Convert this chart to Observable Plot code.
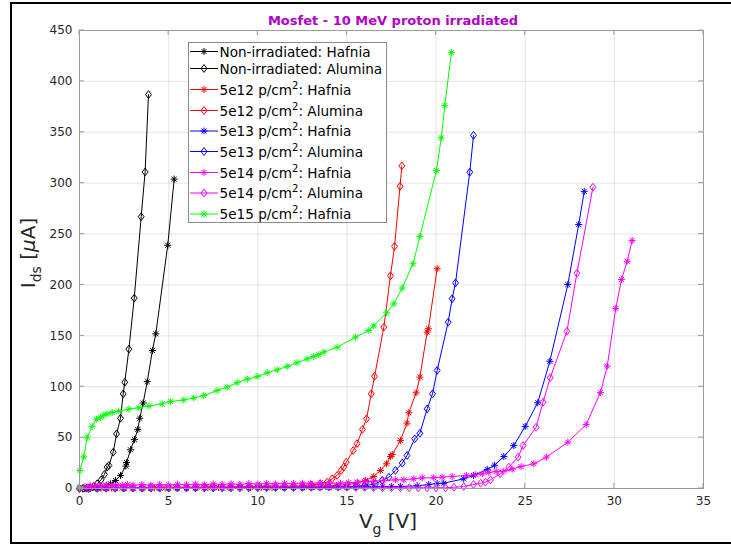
<!DOCTYPE html>
<html><head><meta charset="utf-8">
<script src="https://cdn.jsdelivr.net/npm/d3@7"></script>
<script src="https://cdn.jsdelivr.net/npm/@observablehq/plot@0.6"></script>
<style>
body{margin:0;background:#fff;}
#chart{width:731px;height:546px;overflow:hidden;}
</style>
</head><body><div id="chart"></div>
<script>
// ---- tick labels / text ----
const xTicks = [0, 5, 10, 15, 20, 25, 30, 35];
const yTicks = [0, 50, 100, 150, 200, 250, 300, 350, 400, 450];
const titleText = "Mosfet - 10 MeV proton irradiated";
const seriesNames = [
  ["Non-irradiated: Hafnia", false],
  ["Non-irradiated: Alumina", false],
  ["5e12 p/cm", "Hafnia"],
  ["5e12 p/cm", "Alumina"],
  ["5e13 p/cm", "Hafnia"],
  ["5e13 p/cm", "Alumina"],
  ["5e14 p/cm", "Hafnia"],
  ["5e14 p/cm", "Alumina"],
  ["5e15 p/cm", "Hafnia"]
];
const seriesColors = ["#000000","#000000","#ff0000","#ff0000","#0000ff","#0000ff","#ff00ff","#ff00ff","#00ff00"];
const seriesMarkers = ["star","diamond","star","diamond","star","diamond","star","diamond","star"];

// ---- data: [Vg (V), Ids (uA)] ----
const nonIrrHafnia = [[0,0],[0.3,0.1],[0.6,0.3],[0.9,0.6],[1.2,1.2],[1.5,2.5],[1.74,4.6],[2.02,7.9],[2.3,12.8],[2.6,22],[2.64,25.5],[2.86,38],[3.08,48],[3.27,58],[3.38,69],[3.57,84],[3.8,105],[4.09,135.6],[4.28,152],[4.95,239],[5.31,304]];
const nonIrrAlumina = [[0,0],[0.2,0.1],[0.4,0.3],[0.6,0.8],[0.8,2],[0.99,4.6],[1.21,8.5],[1.4,13.8],[1.55,21],[1.65,22.6],[1.89,35.7],[2.08,53.7],[2.3,69],[2.45,93],[2.54,104.4],[2.77,136.9],[3.07,187],[3.46,267],[3.68,311],[3.87,387]];
const p5e12Hafnia = [[0,0],[0.6,0.3],[1.2,0.4],[1.8,0.5],[2.4,0.4],[3.0,0.6],[3.6,0.5],[4.2,0.7],[4.8,0.6],[5.4,0.8],[6.0,0.7],[6.6,0.9],[7.2,0.8],[7.8,1.0],[8.4,0.9],[9.0,1.1],[9.6,1.0],[10.2,1.2],[10.8,1.1],[11.4,1.3],[12.0,1.4],[12.6,1.5],[13.2,1.8],[13.8,2.2],[14.4,2.8],[15.0,3.8],[15.6,5.5],[16.04,7.9],[16.5,11.8],[16.88,17.7],[17.22,24.3],[17.44,31.4],[17.54,33.4],[18.0,47.2],[18.37,64.2],[18.47,74.4],[18.88,94],[19.09,109.4],[19.5,153.6],[19.57,157],[20.06,216]];
const p5e12Alumina = [[0,0],[0.5,0.2],[1.0,0.4],[1.5,0.5],[2.0,0.6],[2.5,0.7],[3.0,0.8],[3.5,0.9],[4.0,1.0],[4.5,1.0],[5.0,1.1],[5.5,1.2],[6.0,1.3],[6.5,1.3],[7.0,1.4],[7.5,1.5],[8.0,1.5],[8.5,1.6],[9.0,1.7],[9.5,1.8],[10.0,1.9],[10.5,2.0],[11.0,2.1],[11.5,2.3],[12.0,2.5],[12.5,2.9],[13.0,3.4],[13.5,4.6],[13.89,6.2],[14.17,9.5],[14.45,12.8],[14.67,17.7],[14.82,21],[14.96,25.8],[15.35,37.3],[15.57,44],[15.87,58],[16.1,68.5],[16.36,93],[16.55,110.3],[17.07,158.5],[17.44,209],[17.67,237.8],[17.98,297],[18.08,317]];
const p5e13Hafnia = [[0,0],[0.5,0.1],[1.0,0.2],[1.5,0.2],[2.0,0.3],[2.5,0.3],[3.0,0.3],[3.5,0.4],[4.0,0.4],[4.5,0.4],[5.0,0.5],[5.5,0.5],[6.0,0.5],[6.5,0.6],[7.0,0.6],[7.5,0.6],[8.0,0.7],[8.5,0.7],[9.0,0.7],[9.5,0.8],[10.0,0.8],[10.5,0.8],[11.0,0.9],[11.5,0.9],[12.0,1.0],[12.5,1.0],[13.0,1.1],[13.5,1.1],[14.0,1.2],[14.5,1.3],[15.0,1.4],[15.5,1.5],[16.0,1.6],[16.5,1.7],[17.0,1.8],[17.5,1.9],[18.0,2.0],[18.94,2.6],[19.59,3.9],[20.06,4.8],[20.43,5.2],[21.55,9.5],[22.1,12.8],[22.87,18.7],[23.28,22.9],[23.8,31.4],[24.36,42.2],[25.0,61],[25.7,84.2],[26.38,125],[27.39,200.4],[28.0,259.4],[28.31,292]];
const p5e13Alumina = [[0,0],[0.5,0.1],[1.0,0.1],[1.5,0.2],[2.0,0.2],[2.5,0.3],[3.0,0.3],[3.5,0.3],[4.0,0.4],[4.5,0.4],[5.0,0.4],[5.5,0.5],[6.0,0.5],[6.5,0.5],[7.0,0.6],[7.5,0.6],[8.0,0.6],[8.5,0.7],[9.0,0.7],[9.5,0.8],[10.0,0.8],[10.5,0.9],[11.0,0.9],[11.5,1.0],[12.0,1.0],[12.5,1.1],[13.0,1.2],[13.5,1.3],[14.0,1.4],[14.5,1.6],[15.0,1.8],[15.5,2.2],[16.0,2.9],[16.3,3.6],[16.6,4.6],[16.98,7.9],[17.35,11.1],[17.72,17.7],[18.1,24.9],[18.37,32.4],[18.8,48.8],[19.09,54.3],[19.5,78.3],[19.8,93],[20.06,116],[20.68,163.4],[20.9,186.4],[21.09,202],[21.89,310.8],[22.1,347]];
const p5e14Hafnia = [[0,0],[0.3,1.5],[0.6,2.5],[0.9,3.0],[1.2,2.6],[1.5,3.4],[1.8,2.8],[2.1,3.6],[2.4,3.0],[2.7,3.8],[3.0,3.2],[3.5,3.9],[4.0,3.3],[4.5,4.0],[5.0,3.4],[5.5,4.2],[6.0,3.6],[6.5,4.3],[7.0,3.7],[7.5,4.5],[8.0,4.0],[8.5,4.6],[9.0,4.1],[9.5,4.8],[10.0,4.3],[10.5,5.0],[11.0,4.5],[11.5,5.1],[12.0,4.8],[12.5,5.3],[12.96,5.2],[13.5,5.6],[14.0,5.2],[14.64,5.2],[15.1,5.8],[15.57,6.2],[16.0,6.8],[16.5,7.2],[17.07,7.9],[17.72,8.5],[18.19,8.5],[18.75,9.5],[19.22,10.5],[19.87,10.5],[20.34,11.1],[20.9,11.8],[21.7,12.8],[22.2,13.6],[22.59,14.4],[22.96,15.7],[23.37,16.7],[23.8,17],[24.27,19],[24.77,21.6],[25.48,24.3],[26.19,30.8],[27.39,45.5],[28.42,62.9],[29.22,94.3],[29.6,120.2],[30.08,176.9],[30.4,205.3],[30.72,223.3],[31.0,243.7]];
const p5e14Alumina = [[0,0],[0.5,0.3],[1.0,0.5],[1.5,0.6],[2.0,0.7],[2.5,0.7],[3.0,0.8],[3.5,0.8],[4.0,0.9],[4.5,0.9],[5.0,1.0],[5.5,1.0],[6.0,1.0],[6.5,1.1],[7.0,1.1],[7.5,1.1],[8.0,1.2],[8.5,1.2],[9.0,1.2],[9.5,1.3],[10.0,1.3],[10.5,1.3],[11.0,1.3],[11.5,1.4],[12.0,1.4],[12.5,1.4],[13.0,1.4],[13.5,1.4],[14.0,1.4],[14.5,1.3],[15.0,1.2],[15.5,1.1],[16.0,1.0],[16.5,0.9],[17.0,0.8],[17.5,0.8],[18.0,0.7],[18.5,0.7],[19.0,0.7],[19.5,0.7],[20.0,0.7],[20.53,0.7],[21.0,1.2],[21.55,2],[22.1,3.9],[22.5,5.2],[22.77,6.2],[23.05,8.5],[23.6,14.4],[24.08,21],[24.6,30.8],[24.88,42.2],[25.61,60.2],[26.0,84.8],[26.4,108.8],[27.34,154.5],[27.9,211.5],[28.8,296]];
const p5e15Hafnia = [[0,1],[0.02,17.7],[0.24,31],[0.43,50.4],[0.71,61],[0.95,68],[1.18,70],[1.36,72],[1.55,73.4],[1.83,74.7],[2.2,76],[2.77,78],[3.33,79.3],[3.89,81],[4.64,83.2],[5.1,85.5],[5.85,87],[6.41,89],[6.97,91.4],[7.72,96.3],[8.28,99.5],[8.84,104],[9.41,107.4],[9.97,110],[10.53,113.6],[11.09,116.6],[11.65,119.9],[12.2,123.5],[12.77,127.4],[13.14,129.7],[13.42,131.7],[13.7,134],[14.45,138.8],[15.48,148.7],[16.23,155.2],[16.5,159.8],[17.22,172.6],[17.63,181.4],[18.1,197],[18.71,220.8],[19.09,247.6],[20.02,312.4],[20.29,344.6],[20.49,376.3],[20.86,428.4]];

const seriesData = [nonIrrHafnia, nonIrrAlumina, p5e12Hafnia, p5e12Alumina, p5e13Hafnia, p5e13Alumina, p5e14Hafnia, p5e14Alumina, p5e15Hafnia];

// ---- build plot ----
const FONT = "DejaVu Sans, sans-serif";
const X = d => d[0], Y = d => d[1];
// MATLAB-like diamond: taller than wide
const matlabDiamond = {
  draw(context, size) {
    const h = Math.sqrt(size / Math.PI) * 1.45, w = h * 0.75;
    context.moveTo(0, -h); context.lineTo(w, 0); context.lineTo(0, h); context.lineTo(-w, 0); context.closePath();
  }
};
function markerMarks(data, kind, color) {
  if (kind === "star") return [
    Plot.dot(data, {x: X, y: Y, symbol: "plus", r: 2.4, stroke: color, strokeWidth: 1}),
    Plot.dot(data, {x: X, y: Y, symbol: "times", r: 2.4, stroke: color, strokeWidth: 1})
  ];
  return [Plot.dot(data, {x: X, y: Y, symbol: matlabDiamond, r: 2.7, fill: "none", stroke: color, strokeWidth: 1})];
}
const marks = [
  Plot.gridX(xTicks, {stroke: "#262626", strokeOpacity: 0.12}),
  Plot.gridY(yTicks, {stroke: "#262626", strokeOpacity: 0.12})
];
seriesData.forEach((d, i) => {
  marks.push(Plot.line(d, {x: X, y: Y, stroke: seriesColors[i], strokeWidth: 1}));
  marks.push(...markerMarks(d, seriesMarkers[i], seriesColors[i]));
});
marks.push(
  Plot.frame({stroke: "#9a9a9a"}),
  Plot.axisX(xTicks, {tickSize: 0, tickPadding: 8, fill: "#262626", label: null}),
  Plot.axisY(yTicks, {tickSize: 0, tickPadding: 7, fill: "#262626", label: null})
);

const plot = Plot.plot({
  width: 731, height: 546,
  marginLeft: 79, marginRight: 28, marginTop: 30, marginBottom: 58,
  x: {domain: [0, 35]},
  y: {domain: [0, 450]},
  style: {fontFamily: FONT, fontSize: "12px", background: "#fff", overflow: "visible"},
  marks
});
document.getElementById("chart").appendChild(plot);

// ---- decorations using the plot's scales ----
const sx = plot.scale("x"), sy = plot.scale("y");
const x0 = sx.apply(0), x1 = sx.apply(35), y0 = sy.apply(0), y1 = sy.apply(450);
const svg = d3.select(plot);
const tg = svg.append("g").attr("stroke", "#9a9a9a").attr("stroke-width", 1);
xTicks.forEach(t => {
  const px = sx.apply(t);
  tg.append("line").attr("x1", px).attr("x2", px).attr("y1", y1).attr("y2", y1 + 5);
  tg.append("line").attr("x1", px).attr("x2", px).attr("y1", y0).attr("y2", y0 - 5);
});
yTicks.forEach(t => {
  const py = sy.apply(t);
  tg.append("line").attr("x1", x0).attr("x2", x0 + 5).attr("y1", py).attr("y2", py);
  tg.append("line").attr("x1", x1).attr("x2", x1 - 5).attr("y1", py).attr("y2", py);
});

// title
svg.append("text").attr("x", (x0 + x1) / 2 + 2).attr("y", 25)
  .attr("text-anchor", "middle").attr("font-family", FONT).attr("font-weight", "bold")
  .attr("font-size", 13).attr("fill", "#b000c8").text(titleText);

// x label
const xl = svg.append("text").attr("x", (x0 + x1) / 2 - 3).attr("y", 528)
  .attr("text-anchor", "middle").attr("font-family", FONT).attr("font-size", 20).attr("fill", "#262626");
xl.append("tspan").text("V");
xl.append("tspan").attr("font-size", 14).attr("dy", 6).text("g");
xl.append("tspan").attr("dy", -6).text(" [V]");

// y label
const yl = svg.append("text").attr("transform", `translate(35,${(y0 + y1) / 2 - 6}) rotate(-90)`)
  .attr("text-anchor", "middle").attr("font-family", FONT).attr("font-size", 20).attr("fill", "#262626");
yl.append("tspan").text("I");
yl.append("tspan").attr("font-size", 14).attr("dy", 6).text("ds");
yl.append("tspan").attr("dy", -6).text(" [");
yl.append("tspan").attr("font-style", "italic").text("\u03bc");
yl.append("tspan").text("A]");

// legend
const lg = svg.append("g").attr("text-anchor", "start");
lg.append("rect").attr("x", 188.5).attr("y", 42.5).attr("width", 198).attr("height", 180)
  .attr("fill", "#fff").attr("stroke", "#8a8a8a").attr("stroke-width", 1);
const rowY = [51.5, 68.5, 89.5, 110.5, 131, 151.5, 172.5, 193, 214];
seriesNames.forEach((nm, i) => {
  const yy = rowY[i], c = seriesColors[i];
  lg.append("line").attr("x1", 190).attr("x2", 218).attr("y1", yy).attr("y2", yy).attr("stroke", c).attr("stroke-width", 1);
  if (seriesMarkers[i] === "star") {
    lg.append("path").attr("d", d3.symbol(d3.symbolPlus, 18)()).attr("transform", `translate(204,${yy})`).attr("stroke", c).attr("fill", "none");
    lg.append("path").attr("d", d3.symbol(d3.symbolTimes, 18)()).attr("transform", `translate(204,${yy})`).attr("stroke", c).attr("fill", "none");
  } else {
    lg.append("path").attr("d", d3.symbol(matlabDiamond, 23)()).attr("transform", `translate(204,${yy})`).attr("stroke", c).attr("fill", "none");
  }
  const t = lg.append("text").attr("x", 219.5).attr("y", yy + 5).attr("text-anchor", "start")
    .attr("font-family", FONT).attr("font-size", 13.6).attr("fill", "#000");
  if (nm[1] === false) {
    t.text(nm[0]);
  } else {
    t.append("tspan").text(nm[0]);
    t.append("tspan").attr("font-size", 10).attr("dy", -6).text("2");
    t.append("tspan").attr("dy", 6).text(": " + nm[1]);
  }
});

// figure border
svg.append("rect").attr("x", 11).attr("y", 3).attr("width", 740).attr("height", 540)
  .attr("fill", "none").attr("stroke", "#000").attr("stroke-width", 2);
</script>
</body></html>
